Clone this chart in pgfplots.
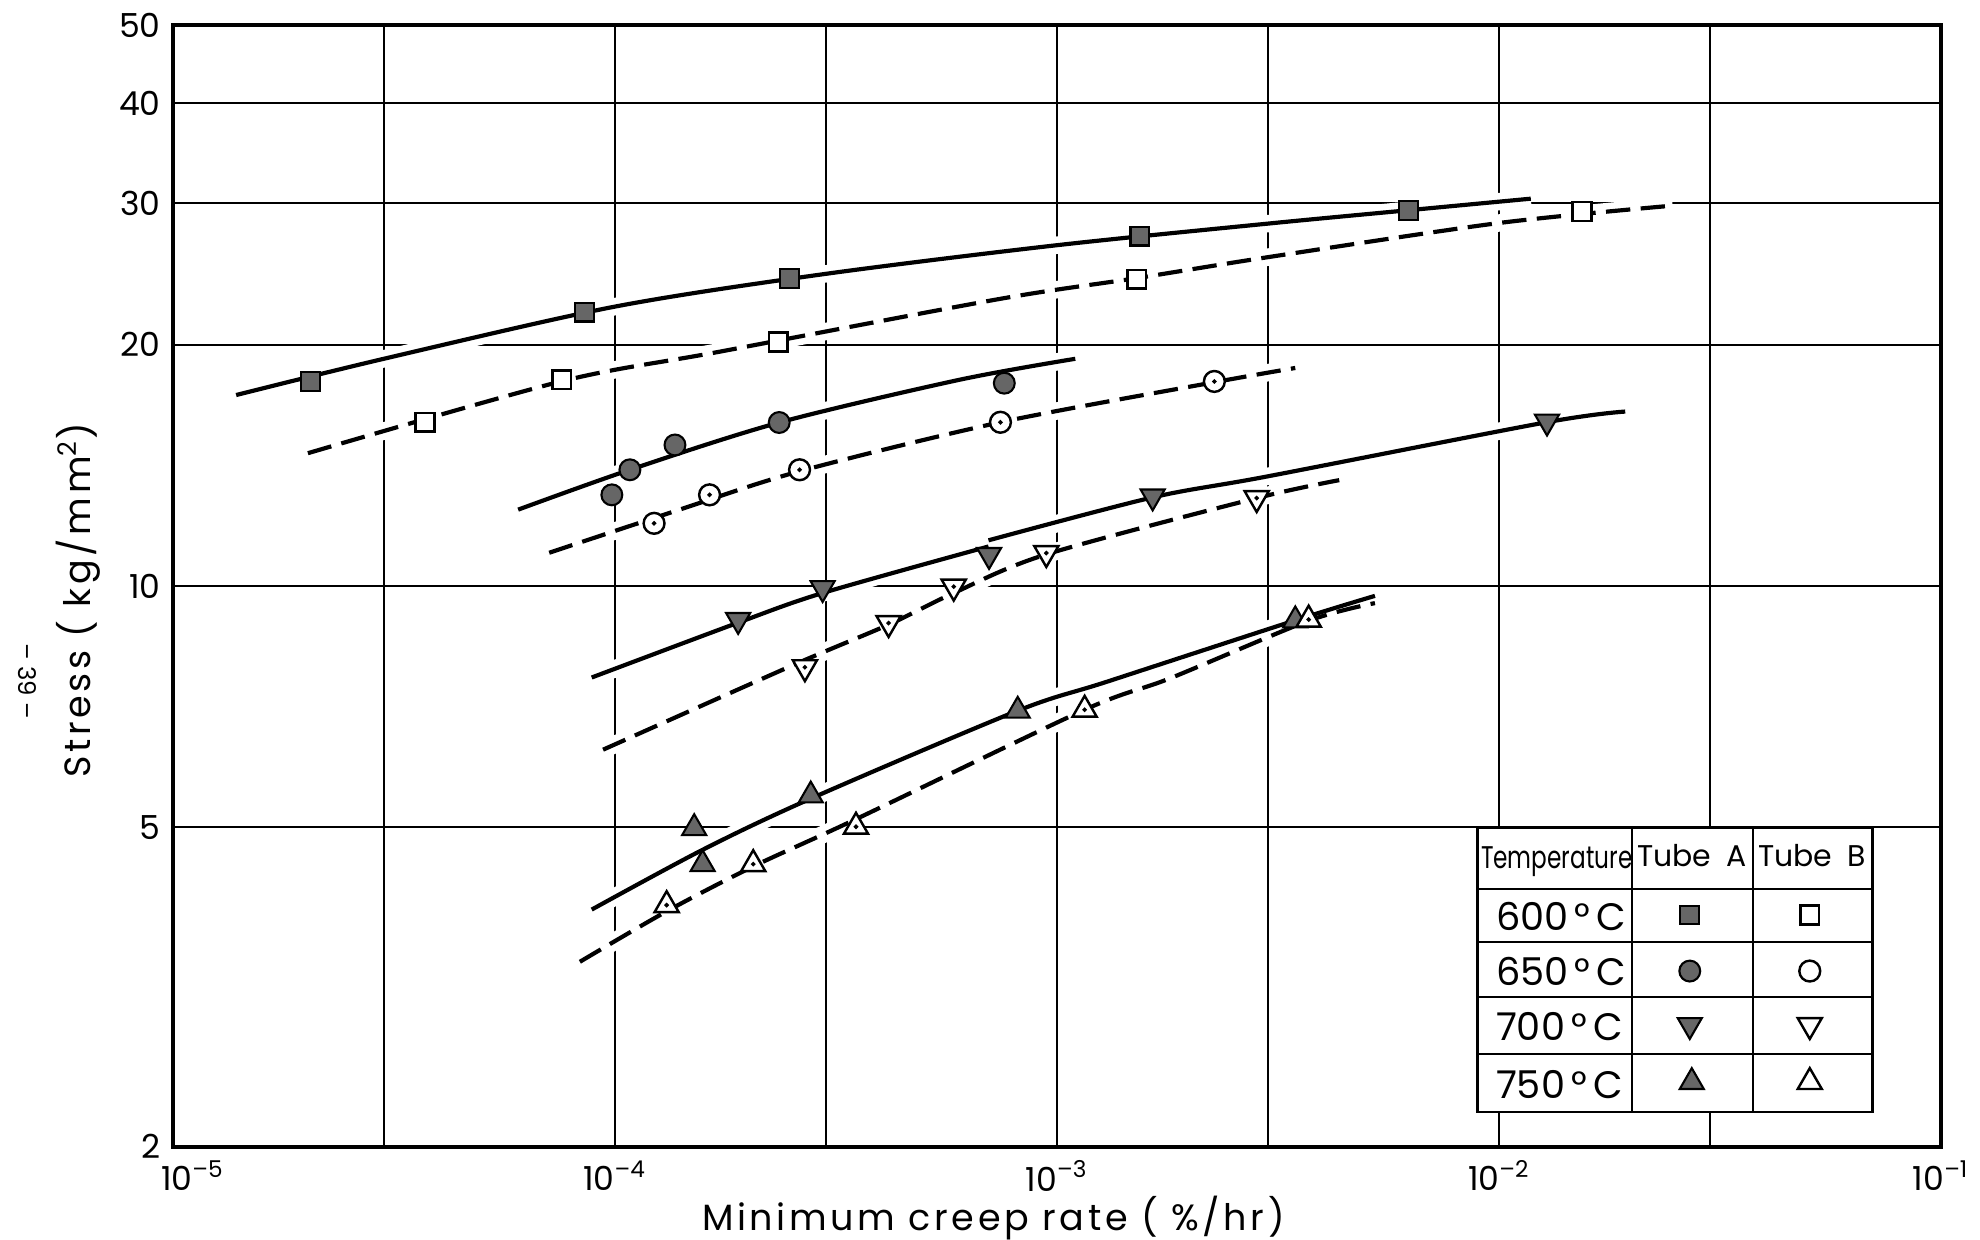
\documentclass[border=0pt]{standalone}
\usepackage{fontspec}
\setmainfont{Poppins}
\usepackage{pgfplots}
\pgfplotsset{compat=1.18}

\pgfplotsset{
  halo/.style={white, line width=5pt, smooth, tension=0.5, no marks, forget plot},
  curveA/.style={black, line width=1.2pt, smooth, tension=0.5, no marks},
  curveB/.style={black, line width=1.2pt, smooth, tension=0.5, no marks, dash pattern=on 7pt off 3pt},
  fillmk/.style={only marks, mark options={draw=black, fill=black!60, line width=0.6pt, solid}},
  openmk/.style={only marks, mark options={draw=black, fill=white, line width=0.7pt, solid}},
  dotmk/.style={only marks, mark=*, mark size=0.45pt, mark options={draw=black, fill=black}},
  sq/.style={mark=square*, mark size=2.7pt},
  ci/.style={mark=*, mark size=3pt},
  dn/.style={mark=triangle*, mark size=4pt, every mark/.append style={rotate=180}},
  up/.style={mark=triangle*, mark size=4pt},
}

\begin{document}
\begin{tikzpicture}
\begin{axis}[at={(0,0)}, anchor=south west, scale only axis,
  width=17.86cm, height=11.326cm,
  xmode=log, ymode=log, xmin=1e-5, xmax=1e-1, ymin=2, ymax=50,
  xtick={1e-5,3e-5,1e-4,3e-4,1e-3,3e-3,1e-2,3e-2,1e-1},
  xticklabels={\hspace{0.4cm}10\textsuperscript{--5},,10\textsuperscript{--4},,10\textsuperscript{--3},,10\textsuperscript{--2},,10\textsuperscript{--1}},
  ytick={2,5,10,20,30,40,50}, yticklabels={2,5,10,20,30,40,50},
  minor xtick={}, minor ytick={}, major tick length=0pt,
  grid=major, major grid style={black, line width=0.6pt},
  axis line style={line width=1.1pt},
  tick label style={font=\fontsize{9.5}{11}\selectfont},
  xticklabel style={yshift=-0.5pt},
  label style={font=\fontsize{10.5}{12}\selectfont\addfontfeatures{LetterSpace=10}},
  xlabel={Minimum creep rate ( \%/hr)},
  ylabel={Stress ( kg/mm\textsuperscript{2})},
  xlabel style={at={(axis description cs:0.464,-0.0635)}, anchor=center},
  ylabel style={at={(axis description cs:-0.0537,0.487)}, anchor=center},
]
% white breaks in the grid under the curves
\addplot[halo] coordinates {(1.39e-5,17.3) (3e-5,19.2) (1e-4,22.3) (3e-4,24.5) (1e-3,26.6) (3e-3,28.3) (6.2e-3,29.4) (1.18e-2,30.4)};
\addplot[halo] coordinates {(2.02e-5,14.64) (7.58e-5,18.0) (1.73e-4,19.6) (7.43e-4,22.8) (1.515e-3,24.2) (3e-3,25.7) (1e-2,28.35) (2.47e-2,29.8)};
\addplot[halo] coordinates {(6.04e-5,12.45) (1.081e-4,13.96) (2.353e-4,15.99) (6e-4,18.07) (1.1e-3,19.2)};
\addplot[halo] coordinates {(7.1e-5,11.0) (1.4e-4,12.45) (2.616e-4,13.9) (7.45e-4,16.0) (2.27e-3,17.95) (3.46e-3,18.7)};
\addplot[halo] coordinates {(8.86e-5,7.69) (1.9e-4,9.0) (2.95e-4,9.8) (7.0e-4,11.3) (1.65e-3,12.9) (3e-3,13.7) (1.28e-2,16.0) (1.93e-2,16.5)};
\addplot[halo] coordinates {(9.4e-5,6.25) (2.53e-4,7.97) (4.16e-4,8.95) (5.84e-4,9.8) (9.46e-4,10.95) (2.83e-3,12.87) (4.35e-3,13.55)};
\addplot[halo] coordinates {(8.86e-5,3.95) (1.58e-4,4.69) (2.77e-4,5.43) (8.15e-4,6.99) (1.3e-3,7.6) (3.46e-3,9.06) (5.24e-3,9.72)};
\addplot[halo] coordinates {(8.33e-5,3.40) (1.309e-4,3.93) (2.055e-4,4.47) (3.51e-4,5.12) (1.155e-3,7.01) (1.8e-3,7.67) (3.71e-3,9.05) (5.24e-3,9.52)};

% 600 C
\addplot[curveA] coordinates {(1.39e-5,17.3) (3e-5,19.2) (1e-4,22.3) (3e-4,24.5) (1e-3,26.6) (3e-3,28.3) (6.2e-3,29.4) (1.18e-2,30.4)};
\addplot[curveB] coordinates {(2.02e-5,14.64) (7.58e-5,18.0) (1.73e-4,19.6) (7.43e-4,22.8) (1.515e-3,24.2) (3e-3,25.7) (1e-2,28.35) (2.47e-2,29.8)};
% 650 C
\addplot[curveA] coordinates {(6.04e-5,12.45) (1.081e-4,13.96) (2.353e-4,15.99) (6e-4,18.07) (1.1e-3,19.2)};
\addplot[curveB] coordinates {(7.1e-5,11.0) (1.4e-4,12.45) (2.616e-4,13.9) (7.45e-4,16.0) (2.27e-3,17.95) (3.46e-3,18.7)};
% 700 C
\addplot[curveA] coordinates {(8.86e-5,7.69) (1.9e-4,9.0) (2.95e-4,9.8) (7.0e-4,11.2)};
\addplot[curveA] coordinates {(7.0e-4,11.4) (1.65e-3,12.9) (3e-3,13.7) (1.28e-2,16.0) (1.93e-2,16.5)};
\addplot[curveB] coordinates {(9.4e-5,6.25) (2.53e-4,7.97) (4.16e-4,8.95) (5.84e-4,9.8) (9.46e-4,10.95) (2.83e-3,12.87) (4.35e-3,13.55)};
% 750 C
\addplot[curveA] coordinates {(8.86e-5,3.95) (1.58e-4,4.69) (2.77e-4,5.43) (8.15e-4,6.99) (1.3e-3,7.6) (3.46e-3,9.06) (5.24e-3,9.72)};
\addplot[curveB] coordinates {(8.33e-5,3.40) (1.309e-4,3.93) (2.055e-4,4.47) (3.51e-4,5.12) (1.155e-3,7.01) (1.8e-3,7.67) (3.71e-3,9.05) (5.24e-3,9.52)};

% measured points, tube A (filled) and tube B (open)
\addplot[fillmk, sq] coordinates {(2.05e-5,18.0) (8.52e-5,21.95) (2.48e-4,24.15) (1.54e-3,27.3) (6.25e-3,29.4)};
\addplot[openmk, sq] coordinates {(3.72e-5,16.0) (7.58e-5,18.07) (2.34e-4,20.15) (1.515e-3,24.13) (1.54e-2,29.3)};
\addplot[fillmk, ci] coordinates {(9.84e-5,12.99) (1.081e-4,13.96) (1.367e-4,14.99) (2.353e-4,15.99) (7.6e-4,17.9)};
\addplot[openmk, ci] coordinates {(1.226e-4,11.97) (1.637e-4,12.99) (2.616e-4,13.96) (7.45e-4,16.0) (2.27e-3,17.99)};
\addplot[dotmk] coordinates {(1.226e-4,11.97) (1.637e-4,12.99) (2.616e-4,13.96) (7.45e-4,16.0) (2.27e-3,17.99)};
\addplot[fillmk, dn] coordinates {(1.90e-4,9.07) (2.95e-4,9.94) (7.02e-4,10.93) (1.646e-3,12.93) (1.284e-2,16.03)};
\addplot[openmk, dn] coordinates {(2.69e-4,7.92) (4.16e-4,8.99) (5.84e-4,9.98) (9.46e-4,10.99) (2.83e-3,12.87)};
\addplot[dotmk] coordinates {(2.69e-4,7.92) (4.16e-4,8.99) (5.84e-4,9.98) (9.46e-4,10.99) (2.83e-3,12.87)};
\addplot[fillmk, up] coordinates {(1.511e-4,4.99) (1.579e-4,4.50) (2.773e-4,5.48) (8.15e-4,6.99) (3.46e-3,9.06)};
\addplot[openmk, up] coordinates {(1.309e-4,4.0) (2.055e-4,4.5) (3.51e-4,5.01) (1.155e-3,7.01) (3.71e-3,9.08)};
\addplot[dotmk] coordinates {(1.309e-4,4.0) (2.055e-4,4.5) (3.51e-4,5.01) (1.155e-3,7.01) (3.71e-3,9.08)};
\end{axis}

% key table, laid out in the pixel units of the drawing
\begin{axis}[at={(13.18cm,0.349cm)}, anchor=south west, scale only axis,
  width=3.99cm, height=2.869cm, xmin=1478, xmax=1873, ymin=828, ymax=1112,
  y dir=reverse, hide axis, clip=false]
\fill[white] (axis cs:1478,828) rectangle (axis cs:1873,1112);
\draw[line width=0.8pt] (axis cs:1478,828) rectangle (axis cs:1873,1112);
\draw[line width=0.7pt] (axis cs:1632,828) -- (axis cs:1632,1112);
\draw[line width=0.7pt] (axis cs:1753,828) -- (axis cs:1753,1112);
\draw[line width=0.7pt] (axis cs:1478,889) -- (axis cs:1873,889);
\draw[line width=0.7pt] (axis cs:1478,942) -- (axis cs:1873,942);
\draw[line width=0.7pt] (axis cs:1478,997) -- (axis cs:1873,997);
\draw[line width=0.7pt] (axis cs:1478,1054) -- (axis cs:1873,1054);
\node[anchor=center, font=\fontsize{9}{10}\selectfont] at (axis cs:1557,862) {\scalebox{0.74}[1]{Temperature}};
\node[anchor=center, font=\fontsize{8.6}{10}\selectfont] at (axis cs:1692,856) {Tube\enspace A};
\node[anchor=center, font=\fontsize{8.6}{10}\selectfont] at (axis cs:1812,856) {Tube\enspace B};
\node[anchor=west, font=\fontsize{11}{12}\selectfont] at (axis cs:1484,916) {600\,°\,C};
\node[anchor=west, font=\fontsize{11}{12}\selectfont] at (axis cs:1484,971) {650\,°\,C};
\node[anchor=west, font=\fontsize{11}{12}\selectfont] at (axis cs:1484,1027) {700\,°\,C};
\node[anchor=west, font=\fontsize{11}{12}\selectfont] at (axis cs:1484,1084) {750\,°\,C};
\addplot[fillmk, sq] coordinates {(1690,915)};
\addplot[openmk, sq] coordinates {(1810,915)};
\addplot[fillmk, ci] coordinates {(1690,971)};
\addplot[openmk, ci] coordinates {(1810,971)};
\addplot[fillmk, dn] coordinates {(1690,1025)};
\addplot[openmk, dn] coordinates {(1810,1025)};
\addplot[fillmk, up] coordinates {(1692,1082)};
\addplot[openmk, up] coordinates {(1810,1082)};
\end{axis}

\node[rotate=-90, font=\fontsize{7}{8}\selectfont] at (-1.465cm,4.7cm) {-- 39 --};
\pgfresetboundingbox
\path[use as bounding box] (-1.747cm,-0.943cm) rectangle (18.253cm,11.582cm);
\end{tikzpicture}
\end{document}
